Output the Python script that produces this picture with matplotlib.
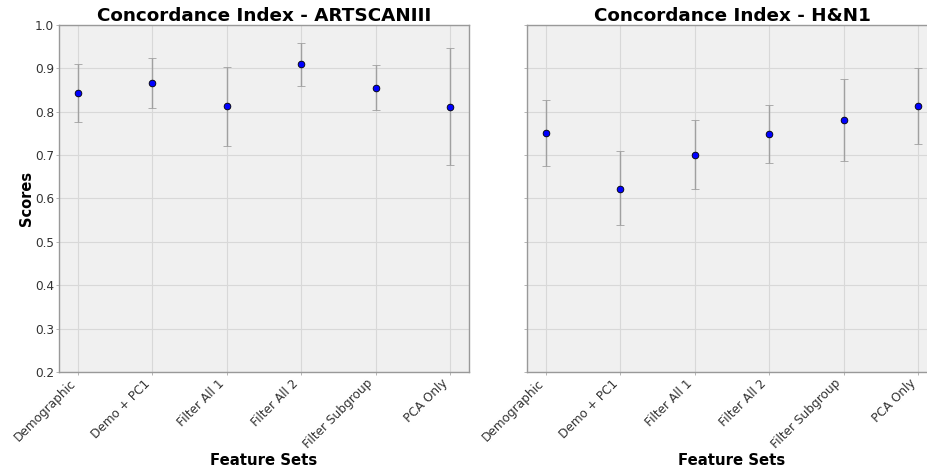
import matplotlib
matplotlib.use("Agg")
import matplotlib.pyplot as plt
import numpy as np

categories = ["Demographic", "Demo + PC1", "Filter All 1", "Filter All 2", "Filter Subgroup", "PCA Only"]

art_scores = [0.843, 0.866, 0.813, 0.909, 0.855, 0.811]
art_lower = [0.777, 0.808, 0.722, 0.859, 0.803, 0.677]
art_upper = [0.909, 0.925, 0.904, 0.959, 0.908, 0.946]

hn_scores = [0.750, 0.623, 0.701, 0.749, 0.781, 0.813]
hn_lower = [0.676, 0.538, 0.623, 0.683, 0.686, 0.725]
hn_upper = [0.827, 0.710, 0.780, 0.815, 0.876, 0.901]

titles = ["Concordance Index - ARTSCANIII", "Concordance Index - H&N1"]
yticks = [0.2, 0.3, 0.4, 0.5, 0.6, 0.7, 0.8, 0.9, 1.0]
ytick_labels = ["0.2", "0.3", "0.4", "0.5", "0.6", "0.7", "0.8", "0.9", "1.0"]

fig = plt.figure(figsize=(9.28, 4.72), dpi=100)
ax1 = fig.add_axes([0.0636, 0.2119, 0.4418, 0.7351])
ax2 = fig.add_axes([0.5679, 0.2119, 0.4418, 0.7351])

datasets = [(art_scores, art_lower, art_upper), (hn_scores, hn_lower, hn_upper)]
x = np.arange(len(categories))
for i, (ax, (s, lo, up)) in enumerate(zip([ax1, ax2], datasets)):
    s = np.array(s); lo = np.array(lo); up = np.array(up)
    ax.set_facecolor("#f0f0f0")
    ax.grid(True, color="#d8d8d8", linewidth=0.8)
    ax.set_axisbelow(True)
    ax.errorbar(x, s, yerr=[s - lo, up - s], fmt="o", color="blue",
                markeredgecolor="black", markeredgewidth=0.6, markersize=4.8,
                ecolor="#a0a0a0", elinewidth=1, capsize=3, capthick=1, zorder=3)
    ax.set_xlim(-0.255, 5.255)
    ax.set_ylim(0.2, 1.0)
    ax.set_yticks(yticks)
    ax.set_xticks(x)
    ax.set_xticklabels(categories, rotation=45, ha="right", fontsize=8.7)
    ax.tick_params(axis="y", length=2, width=0.6, color="#aaaaaa", labelsize=8.7, pad=1.5, labelcolor="#333333")
    ax.tick_params(axis="x", length=2, width=0.6, color="#aaaaaa", pad=1.5, labelcolor="#333333")
    for sp in ax.spines.values():
        sp.set_color("#999999")
        sp.set_linewidth(1)
    ax.set_title(titles[i], fontsize=13.2, fontweight="bold", pad=3)
    ax.set_xlabel("Feature Sets", fontsize=10.7, fontweight="bold", labelpad=1.5)
    if i == 0:
        ax.set_ylabel("Scores", fontsize=10.5, fontweight="bold", labelpad=0.5)
        ax.set_yticklabels(ytick_labels)
    else:
        ax.set_yticklabels([])

fig.savefig("out.png", dpi=100)
